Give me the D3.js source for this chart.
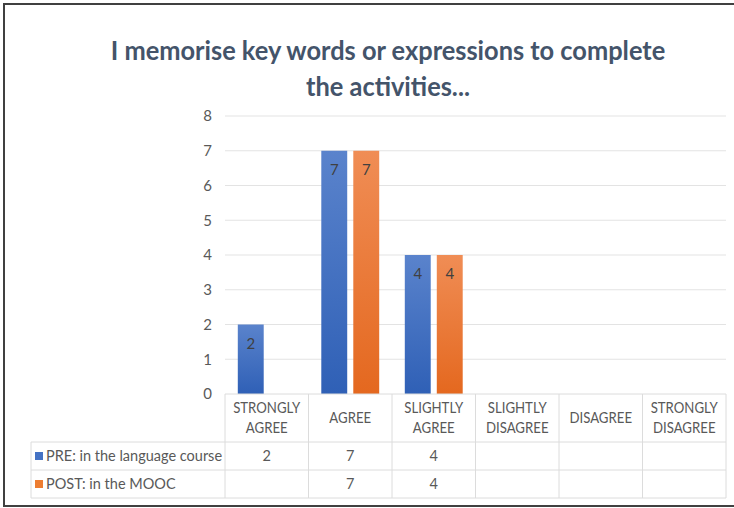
<!DOCTYPE html>
<html>
<head>
<meta charset="utf-8">
<script src="https://cdn.jsdelivr.net/npm/d3@7"></script>
<style>
  body { margin: 0; background: #fff; }
  text { font-family: Lato, "Open Sans", sans-serif; }
</style>
</head>
<body>
<div id="chart"></div>
<script>
// chart data
var categories = [["STRONGLY", "AGREE"], ["AGREE"], ["SLIGHTLY", "AGREE"],
                  ["SLIGHTLY", "DISAGREE"], ["DISAGREE"], ["STRONGLY", "DISAGREE"]];
var seriesNames = ["PRE: in the language course", "POST: in the MOOC"];
var preValues = [2, 7, 4, null, null, null];
var postValues = [null, 7, 4, null, null, null];
var yTicks = [0, 1, 2, 3, 4, 5, 6, 7, 8];
var titleLines = ["I memorise key words or expressions to complete", "the activities..."];

var width = 734, height = 508;
var plot = {left: 225, right: 726, top: 116, bottom: 394};
var tableLeft = 31, rowLines = [394, 442, 470, 498];

var svg = d3.select("#chart").append("svg")
    .attr("width", width)
    .attr("height", height);

// squeeze a text a bit, Calibri is narrower than Lato
function squeeze(sel, f) {
  sel.each(function() {
    var w = this.getComputedTextLength();
    d3.select(this).attr("textLength", w * f).attr("lengthAdjust", "spacingAndGlyphs");
  });
}

// gradients for the bars
var defs = svg.append("defs");
var grads = [["gBlue", "#5a83cc", "#2f60b6"], ["gOrange", "#f08d55", "#e4681f"]];
grads.forEach(function(g) {
  var lg = defs.append("linearGradient").attr("id", g[0])
      .attr("x1", 0).attr("y1", 0).attr("x2", 0).attr("y2", 1);
  lg.append("stop").attr("offset", "0%").attr("stop-color", g[1]);
  lg.append("stop").attr("offset", "100%").attr("stop-color", g[2]);
});
var keyColors = ["#4472c4", "#ed7d31"];

// frame
svg.append("path")
    .attr("d", "M735,4 H4 V506 H735")
    .attr("fill", "none")
    .attr("stroke", "#404040")
    .attr("stroke-width", 2);

// title
svg.selectAll(".title")
  .data(titleLines)
  .enter().append("text")
    .attr("x", 388)
    .attr("y", function(d, i) { return 60 + i * 36; })
    .attr("text-anchor", "middle")
    .attr("font-size", 27)
    .attr("font-weight", "bold")
    .attr("fill", "#44546a")
    .text(function(d) { return d; })
    .call(squeeze, 0.94);

// scales
var x0 = d3.scaleBand()
    .domain(d3.range(categories.length))
    .range([plot.left, plot.right]);
var x1 = d3.scaleBand()
    .domain([0, 1])
    .range([0, x0.bandwidth()])
    .paddingInner(0.19)
    .paddingOuter(0.4);
var y = d3.scaleLinear().domain([0, 8]).range([plot.bottom, plot.top]);

// gridlines
svg.append("g")
  .selectAll("line")
  .data(yTicks.slice(1))
  .enter().append("line")
    .attr("x1", plot.left).attr("x2", plot.right)
    .attr("y1", function(d) { return y(d); })
    .attr("y2", function(d) { return y(d); })
    .attr("stroke", "#e3e3e3")
    .attr("stroke-width", 1);

// y axis
var yAxis = svg.append("g")
    .attr("transform", "translate(" + plot.left + ",0)")
    .call(d3.axisLeft(y).tickValues(yTicks).tickSize(0).tickPadding(13));
yAxis.select(".domain").remove();
yAxis.selectAll("text")
    .attr("font-family", "Lato, sans-serif")
    .attr("font-size", 15)
    .attr("fill", "#595959");

// bars
var series = [preValues, postValues];
series.forEach(function(vals, s) {
  var g = svg.append("g");
  var data = vals.map(function(v, i) { return {i: i, v: v}; })
      .filter(function(d) { return d.v != null; });
  g.selectAll("rect")
    .data(data)
    .enter().append("rect")
      .attr("x", function(d) { return x0(d.i) + x1(s); })
      .attr("y", function(d) { return y(d.v); })
      .attr("width", x1.bandwidth())
      .attr("height", function(d) { return y(0) - y(d.v); })
      .attr("fill", s === 0 ? "url(#gBlue)" : "url(#gOrange)");
  g.selectAll("text")
    .data(data)
    .enter().append("text")
      .attr("x", function(d) { return x0(d.i) + x1(s) + x1.bandwidth() / 2; })
      .attr("y", function(d) { return y(d.v) + 24; })
      .attr("text-anchor", "middle")
      .attr("font-size", 15)
      .attr("fill", "#404040")
      .text(function(d) { return d.v; });
});

// data table lines
var table = svg.append("g").attr("stroke", "#dcdcdc").attr("stroke-width", 1);
table.append("line")
    .attr("x1", plot.left).attr("x2", plot.right)
    .attr("y1", rowLines[0]).attr("y2", rowLines[0]);
rowLines.slice(1).forEach(function(ry) {
  table.append("line")
      .attr("x1", tableLeft).attr("x2", plot.right)
      .attr("y1", ry).attr("y2", ry);
});
table.append("line")
    .attr("x1", tableLeft).attr("x2", tableLeft)
    .attr("y1", rowLines[1]).attr("y2", rowLines[3]);
d3.range(categories.length + 1).forEach(function(i) {
  var cx = i < categories.length ? x0(i) : plot.right;
  table.append("line")
      .attr("x1", cx).attr("x2", cx)
      .attr("y1", rowLines[0]).attr("y2", rowLines[3]);
});

// category labels
categories.forEach(function(lines, i) {
  var cx = x0(i) + x0.bandwidth() / 2;
  var mid = (rowLines[0] + rowLines[1]) / 2;
  lines.forEach(function(l, k) {
    svg.append("text")
        .attr("text-anchor", "middle")
        .attr("font-size", 14.5)
        .attr("fill", "#595959")
        .attr("x", cx)
        .attr("y", mid + 5 + (k - (lines.length - 1) / 2) * 20)
        .text(l)
        .call(squeeze, 0.91);
  });
});

// legend rows with values
series.forEach(function(vals, s) {
  var cy = (rowLines[s + 1] + rowLines[s + 2]) / 2;
  svg.append("rect")
      .attr("x", 35).attr("y", cy - 4)
      .attr("width", 8).attr("height", 8)
      .attr("fill", keyColors[s]);
  svg.append("text")
      .attr("x", 46).attr("y", cy + 5)
      .attr("font-size", 14.5)
      .attr("fill", "#595959")
      .text(seriesNames[s]);
  vals.forEach(function(v, i) {
    if (v == null) return;
    svg.append("text")
        .attr("x", x0(i) + x0.bandwidth() / 2)
        .attr("y", cy + 5)
        .attr("text-anchor", "middle")
        .attr("font-size", 14.5)
        .attr("fill", "#595959")
        .text(v);
  });
});
</script>
</body>
</html>
